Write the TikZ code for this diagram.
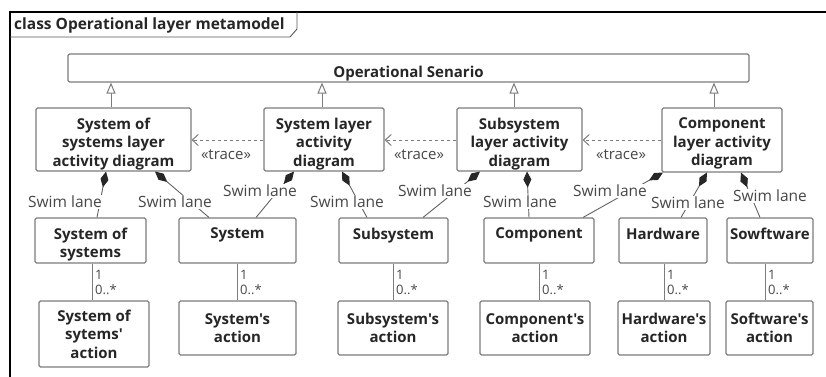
\documentclass[tikz,border=0pt]{standalone}
\usepackage{fontspec}
\setmainfont{Open Sans}[Ligatures=TeXOff]
\usetikzlibrary{arrows.meta,fit,calc}

\definecolor{edge}{HTML}{7C7C7C}
\definecolor{ink}{HTML}{262626}

% box frame plus its bold name, set a fixed distance below the top edge
% #1 name, #2/#3 top-left corner, #4/#5 bottom-right corner, #6 text
\newcommand\umlbox[6]{%
  \node[box, fit={(#2,#3) (#4,#5)}] (#1) {};
  \node[boxname, anchor=north] (#1-t) at ([yshift=-10pt]#1.north) {#6};
}

\begin{document}
\begin{tikzpicture}[x=1pt, y=-1pt,
  box/.style={draw=edge, line width=1.1pt, rounded corners=1.5pt, fill=white, inner sep=0pt},
  boxname/.style={font=\fontsize{15}{18.5}\selectfont\bfseries, text=ink, align=center, inner sep=0pt},
  lane/.style={font=\fontsize{15.5}{17}\selectfont, text=ink!85, fill=white, inner sep=1pt},
  tracelbl/.style={font=\fontsize{15}{17}\selectfont, text=ink!85, inner sep=1pt},
  mult/.style={font=\fontsize{13}{14}\selectfont, text=ink!85, inner sep=0pt, anchor=west},
  gen/.style={draw=edge, line width=1pt, -{Triangle[open, length=11pt, width=9pt, fill=white]}},
  trace/.style={draw=edge, line width=1pt, dashed, dash pattern=on 3.5pt off 2.5pt, -{Straight Barb[length=6pt, width=11pt]}},
  comp/.style={draw=edge!80!black, line width=0.9pt, {Diamond[length=16pt, width=8pt, color=ink]}-},
  assoc/.style={draw=edge, line width=0.9pt}
]
\useasboundingbox (0,0) rectangle (826,376);

% diagram frame and its name tab
\begin{scope}
  \clip (0,0) rectangle (826,376);
  \draw[black, line width=2pt] (10,390) -- (10,12) -- (840,12);
\end{scope}
\draw[edge!70!black, line width=0.9pt] (10,37) -- (290,37) -- (297,29) -- (297,12);
\node[font=\fontsize{15.5}{17}\selectfont\bfseries, text=ink, anchor=west, inner sep=0pt] (title) at (14,25) {class Operational layer metamodel};

% top class
\node[box, fit={(68,54) (749,82)}] (sen) {};
\node[boxname, anchor=north] (sen-t) at ([yshift=-12pt]sen.north) {Operational Senario};

% activity diagrams
\umlbox{a1}{36}{108}{191}{171}{System of\\systems layer\\activity diagram}
\umlbox{a2}{264}{108}{384}{171}{System layer\\activity\\diagram}
\umlbox{a3}{457}{108}{582}{171}{Subsystem\\layer activity\\diagram}
\umlbox{a4}{662}{108}{782}{172}{Component\\layer activity\\diagram}

% swim lane classes
\umlbox{b1}{35}{218}{146}{263}{System of\\systems}
\umlbox{b2}{179}{218}{296}{263}{System}
\umlbox{b3}{339}{218}{448}{263}{Subsystem}
\umlbox{b4}{484}{218}{594}{263}{Component}
\umlbox{b5}{619}{218}{707}{263}{Hardware}
\umlbox{b6}{727}{218}{813}{263}{Sowftware}

% actions
\node[box, fit={(39,301) (149,367)}] (c1) {};
\node[boxname] (c1-t) at (c1.center) {System of\\sytems'\\action};
\node[box, fit={(179,301) (296,355)}] (c2) {};
\node[boxname] (c2-t) at (c2.center) {System's\\action};
\node[box, fit={(338,301) (448,355)}] (c3) {};
\node[boxname] (c3-t) at (c3.center) {Subsystem's\\action};
\node[box, fit={(480,301) (590,355)}] (c4) {};
\node[boxname] (c4-t) at (c4.center) {Component's\\action};
\node[box, fit={(618,301) (710,355)}] (c5) {};
\node[boxname] (c5-t) at (c5.center) {Hardware's\\action};
\node[box, fit={(726,301) (813,355)}] (c6) {};
\node[boxname] (c6-t) at (c6.center) {Software's\\action};

% generalizations
\draw[gen] (111,0 |- a1.north) -- (111,0 |- sen.south);
\draw[gen] (322,0 |- a2.north) -- (322,0 |- sen.south);
\draw[gen] (514,0 |- a3.north) -- (514,0 |- sen.south);
\draw[gen] (714,0 |- a4.north) -- (714,0 |- sen.south);

% trace dependencies
\draw[trace] (a2.west |- 0,140) -- (a1.east |- 0,140);
\draw[trace] (a3.west |- 0,140) -- (a2.east |- 0,140);
\draw[trace] (a4.west |- 0,140) -- (a3.east |- 0,140);
\node[tracelbl] (tr1) at (226,155) {«trace»};
\node[tracelbl] (tr2) at (419,155) {«trace»};
\node[tracelbl] (tr3) at (621,155) {«trace»};

% compositions (swim lanes)
\draw[comp] (106,0 |- a1.south) -- (97,0 |- b1.north);
\draw[comp] (155,0 |- a1.south) -- (209,0 |- b2.north);
\draw[comp] (294,0 |- a2.south) -- (256,0 |- b2.north);
\draw[comp] (342,0 |- a2.south) -- (367,0 |- b3.north);
\draw[comp] (480,0 |- a3.south) -- (423,0 |- b3.north);
\draw[comp] (527,0 |- a3.south) -- (529,0 |- b4.north);
\draw[comp] (663,0 |- a4.south) -- (583,0 |- b4.north);
\draw[comp] (707,0 |- a4.south) -- (681,0 |- b5.north);
\draw[comp] (741,0 |- a4.south) -- (760,0 |- b6.north);
\node[lane] (l1) at (65,202) {Swim lane};
\node[lane] (l2) at (175,202) {Swim lane};
\node[lane] (l3) at (260,191) {Swim lane};
\node[lane] (l4) at (347,202) {Swim lane};
\node[lane] (l5) at (435,191) {Swim lane};
\node[lane] (l6) at (520,202) {Swim lane};
\node[lane] (l7) at (610,191) {Swim lane};
\node[lane] (l8) at (688,203) {Swim lane};
\node[lane] (l9) at (770,196) {Swim lane};

% associations to actions, with multiplicities
\foreach \k/\x in {1/92, 2/237, 3/393, 4/539, 5/664, 6/765} {
  \draw[assoc] (\x,0 |- b\k.south) -- (\x,0 |- c\k.north);
  \node[mult] (m\k a) at (\x+3,275) {1};
  \node[mult] (m\k b) at (\x+3,290) {0..*};
}
\end{tikzpicture}
\end{document}
